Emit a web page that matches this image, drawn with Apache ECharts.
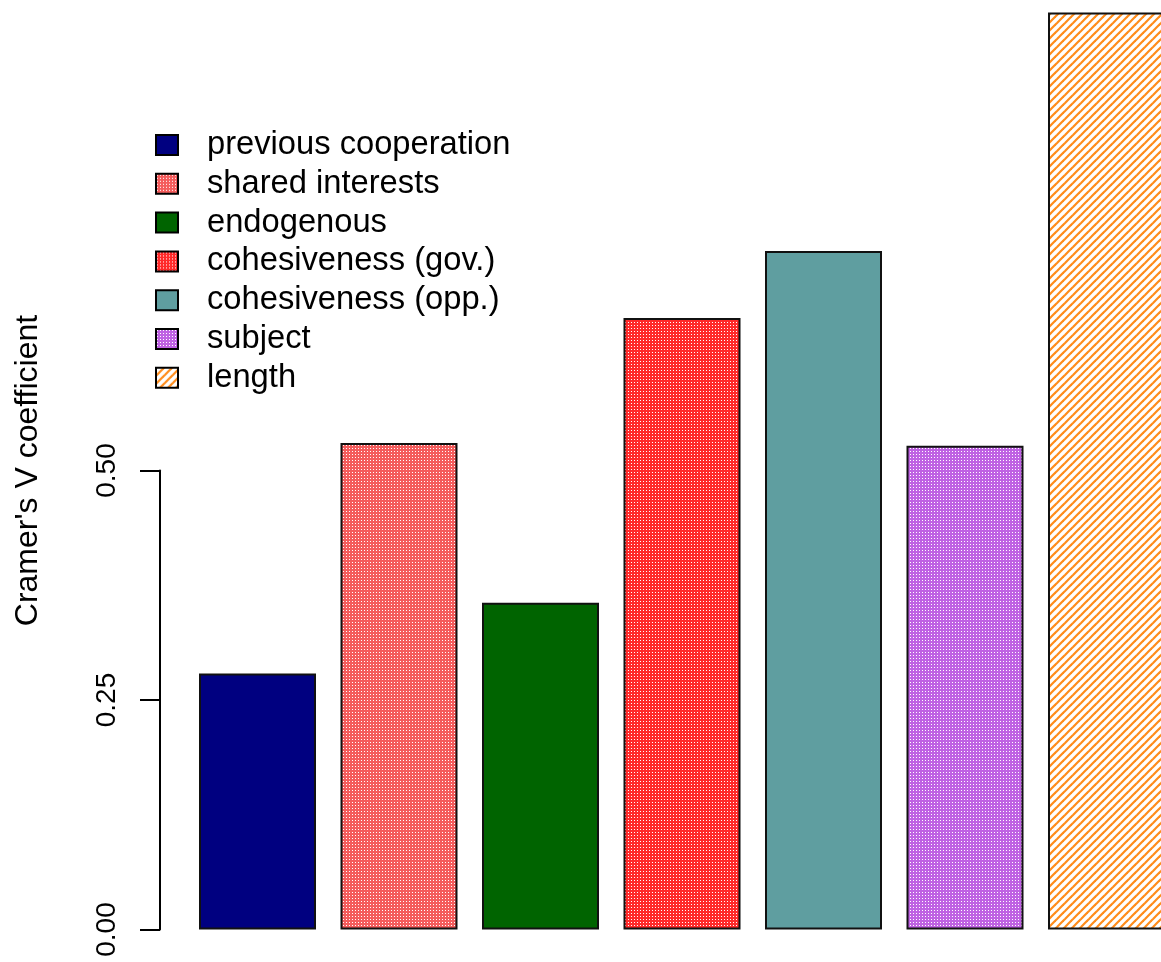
<!DOCTYPE html>
<html>
<head>
<meta charset="utf-8">
<script src="https://cdn.jsdelivr.net/npm/echarts@6/dist/echarts.min.js"></script>
<style>
html,body{margin:0;padding:0;background:#fff;}
#chart{width:1161px;height:962px;}
</style>
</head>
<body>
<div id="chart"></div>
<script>
// ---- data ----
const categories = ['previous cooperation','shared interests','endogenous','cohesiveness (gov.)','cohesiveness (opp.)','subject','length'];
const values = [0.279, 0.530, 0.356, 0.666, 0.739, 0.527, 0.999];
const yTicks = [0, 0.25, 0.5];
const yTitle = "Cramer's V coefficient";

// ---- styles ----
function dotPattern(base) {
  const c = document.createElement('canvas');
  c.width = 3; c.height = 3;
  const g = c.getContext('2d');
  g.fillStyle = base; g.fillRect(0,0,3,3);
  g.fillStyle = '#ffffff'; g.fillRect(1,1,1,1);
  return {image: c, repeat: 'repeat'};
}
function linePattern(col) {
  const s = 8;
  const c = document.createElement('canvas');
  c.width = s; c.height = s;
  const g = c.getContext('2d');
  g.fillStyle = '#ffffff'; g.fillRect(0,0,s,s);
  g.strokeStyle = col; g.lineWidth = 2.2;
  for (const o of [-s, 0, s]) {
    g.beginPath(); g.moveTo(o - 1, s + 1); g.lineTo(o + s + 1, -1); g.stroke();
  }
  return {image: c, repeat: 'repeat'};
}
const fills = [
  '#000080',
  dotPattern('#f45c5c'),
  '#006400',
  dotPattern('#ff2a2a'),
  '#5f9ea0',
  dotPattern('#bf62e3'),
  linePattern('#ff8c1a')
];
const FONT = '"Liberation Sans", Arial, sans-serif';

const chart = echarts.init(document.getElementById('chart'), null, {renderer: 'canvas'});
chart.setOption({
  animation: false,
  backgroundColor: '#ffffff',
  grid: [
    {left: 186.75, width: 990.5, top: 11.5, height: 918, outerBoundsMode: 'none', containLabel: false},
    {left: 160, width: 10, top: 470.5, height: 459, outerBoundsMode: 'none', containLabel: false}
  ],
  xAxis: [
    {type: 'category', gridIndex: 0, data: categories, boundaryGap: true,
     axisLine: {show: false}, axisTick: {show: false}, axisLabel: {show: false}, splitLine: {show: false}},
    {type: 'value', gridIndex: 1, show: false}
  ],
  yAxis: [
    {type: 'value', gridIndex: 0, min: 0, max: 1, interval: 0.25,
     axisLine: {show: false}, axisTick: {show: false}, axisLabel: {show: false}, splitLine: {show: false},
     name: yTitle, nameLocation: 'middle', nameRotate: 90, nameGap: 143,
     nameTextStyle: {fontSize: 32, color: '#000', fontFamily: FONT}},
    {type: 'value', gridIndex: 1, min: yTicks[0], max: yTicks[yTicks.length-1], interval: 0.25,
     axisLine: {show: true, lineStyle: {color: '#000', width: 2}},
     axisTick: {show: true, length: 20, inside: false, lineStyle: {color: '#000', width: 2}},
     axisLabel: {show: true, rotate: 90, margin: 39, fontSize: 28, color: '#000', fontFamily: FONT,
                 formatter: v => v.toFixed(2)},
     splitLine: {show: false}}
  ],
  legend: {
    orient: 'vertical', left: 155, top: 128.5, padding: 0,
    itemWidth: 22, itemHeight: 20, itemGap: 5.8, icon: 'rect',
    selectedMode: false,
    itemStyle: {borderColor: '#000', borderWidth: 2},
    textStyle: {fontSize: 32.7, lineHeight: 33, color: '#000', fontFamily: FONT, padding: [0,0,0,24]},
    data: categories
  },
  series: categories.map((name, i) => ({
    name: name, type: 'bar', xAxisIndex: 0, yAxisIndex: 0,
    barWidth: 117, barGap: '-100%',
    data: categories.map((c, j) => j === i ? values[i] : '-'),
    itemStyle: {color: fills[i], borderColor: '#111', borderWidth: 2}
  }))
});
</script>
</body>
</html>
